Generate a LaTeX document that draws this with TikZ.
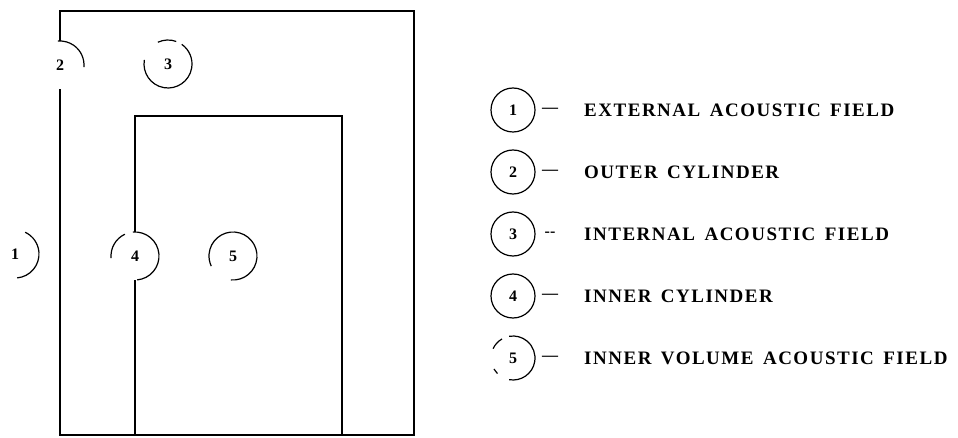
\documentclass[tikz,border=0pt]{standalone}
\usepackage{fontspec}
\setmainfont{Liberation Serif}
\newfontfamily\capsfont[LetterSpace=8,WordSpace=1.5]{Liberation Serif}
\begin{document}
\begin{tikzpicture}[x=1pt,y=-1pt,
  wall/.style={line width=2.8pt,line join=miter},
  ring/.style={line width=1.2pt},
  num/.style={circle,inner sep=0pt,minimum size=48pt,font=\fontsize{16}{16}\selectfont\bfseries},
  legnum/.style={circle,inner sep=0pt,minimum size=44pt,font=\fontsize{16}{16}\selectfont\bfseries},
  dashlbl/.style={inner sep=0pt,font=\fontsize{16}{16}\selectfont\bfseries},
  capslbl/.style={anchor=west,inner sep=0pt,font=\fontsize{19}{19}\capsfont\bfseries}]
\useasboundingbox (0,0) rectangle (958,438);
% corners
\coordinate (oTL) at (60,11);
\coordinate (oTR) at (414,11);
\coordinate (oBR) at (414,435);
\coordinate (oBL) at (60,435);
\coordinate (iTL) at (135,116);
\coordinate (iTR) at (342,116);
\coordinate (iBR) at (342,435);
\coordinate (iBL) at (135,435);
% region labels
\node[num] (c1) at (15,254) {1};
\node[num] (c2) at (60,65) {2};
\node[num] (c3) at (168,64) {3};
\node[num] (c4) at (135,256) {4};
\node[num] (c5) at (233,256) {5};
% walls
\draw[wall] (c2.north) -- (oTL) -- (oTR) -- (oBR) -- (oBL) -- (c2.south);
\draw[wall] (c4.north) -- (iTL) -- (iTR) -- (iBR);
\draw[wall] (c4.south) -- (iBL);
% partial rings
\draw[ring] (c1.center) ++(85:24) arc[start angle=85,end angle=-65,radius=24];
\draw[ring] (c2.center) ++(5:24) arc[start angle=5,end angle=-95,radius=24];
\draw[ring] (c3.center) ++(190:24) arc[start angle=190,end angle=-55,radius=24];
\draw[ring] (c3.center) ++(-70:24) arc[start angle=-70,end angle=-115,radius=24];
\draw[ring] (c4.center) ++(85:24) arc[start angle=85,end angle=-95,radius=24];
\draw[ring] (c4.center) ++(175:24) arc[start angle=175,end angle=245,radius=24];
\draw[ring] (c5.center) ++(95:24) arc[start angle=95,end angle=-205,radius=24];
% legend
\node[legnum] (l1) at (513,110) {1};
\node[legnum] (l2) at (513,172) {2};
\node[legnum] (l3) at (513,234) {3};
\node[legnum] (l4) at (513,296) {4};
\node[legnum] (l5) at (513,358) {5};
\foreach \n in {l1,l2,l3,l4} \draw[ring] (\n.center) circle[radius=22];
\draw[ring] (l5.center) ++(100:22) arc[start angle=100,end angle=-100,radius=22];
\draw[ring] (l5.center) ++(135:22) arc[start angle=135,end angle=150,radius=22];
\draw[ring] (l5.center) ++(205:22) arc[start angle=205,end angle=240,radius=22];
\node[dashlbl] (d1) at (550,110) {—};
\node[dashlbl] (d2) at (550,172) {—};
\node[dashlbl] (d3) at (550,234) {-{}-};
\node[dashlbl] (d4) at (550,296) {—};
\node[dashlbl] (d5) at (550,358) {—};
\node[capslbl] (t1) at (584,110) {EXTERNAL ACOUSTIC FIELD};
\node[capslbl] (t2) at (584,172) {OUTER CYLINDER};
\node[capslbl] (t3) at (584,234) {INTERNAL ACOUSTIC FIELD};
\node[capslbl] (t4) at (584,296) {INNER CYLINDER};
\node[capslbl] (t5) at (584,358) {INNER VOLUME ACOUSTIC FIELD};
\end{tikzpicture}
\end{document}
